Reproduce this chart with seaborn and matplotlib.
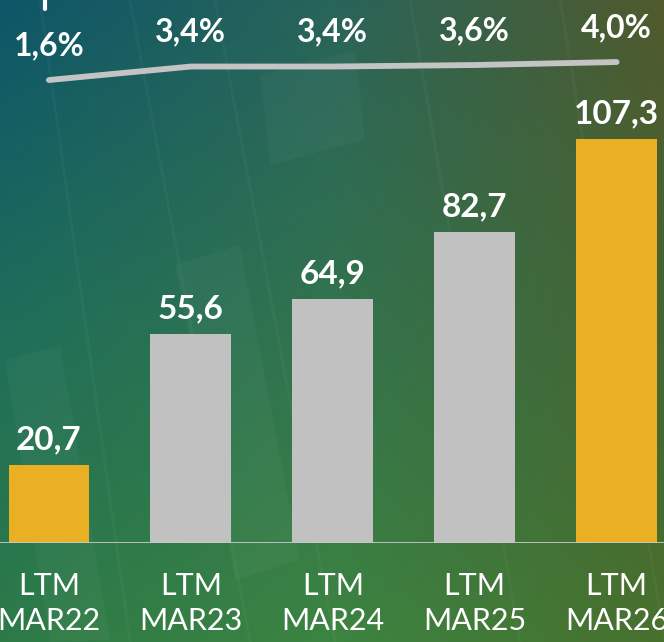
import numpy as np
import pandas as pd
import matplotlib
matplotlib.use("Agg")
import matplotlib.pyplot as plt
import seaborn as sns
from matplotlib.lines import Line2D
from matplotlib.patches import Polygon

# Datos del gráfico
periodos = ["LTM\nMAR22", "LTM\nMAR23", "LTM\nMAR24", "LTM\nMAR25", "LTM\nMAR26"]
valores = [20.7, 55.6, 64.9, 82.7, 107.3]
etiquetas_valor = ["20,7", "55,6", "64,9", "82,7", "107,3"]
porcentajes = [1.6, 3.4, 3.4, 3.6, 4.0]
etiquetas_pct = ["1,6%", "3,4%", "3,4%", "3,6%", "4,0%"]
destacados = [True, False, False, False, True]

DORADO = "#E9B024"
GRIS = "#C1C1C1"

sns.set_theme(style="white")
plt.rcParams['font.family'] = ['Lato', 'DejaVu Sans']

W, H = 664, 642
fig = plt.figure(figsize=(W / 100, H / 100), dpi=100)

# Fondo degradado azul -> verde -> oliva
bg = fig.add_axes([0, 0, 1, 1])
colores_fondo = np.array([
    [[13, 85, 105], [40, 100, 90], [80, 90, 45]],
    [[30, 110, 90], [50, 115, 78], [70, 100, 50]],
    [[45, 122, 72], [60, 132, 65], [72, 112, 45]],
]) / 255.0
bg.imshow(colores_fondo, extent=[-0.25, 1.25, -0.25, 1.25], interpolation='bilinear',
          aspect='auto', zorder=0)
bg.set_xlim(0, 1)
bg.set_ylim(0, 1)
bg.axis('off')


def px(x, y):
    return (x / W, 1 - y / H)


# velas tenues de fondo
for (x0, x1) in [(40, 130), (130, 250), (215, 335), (410, 520), (560, 665)]:
    bg.add_line(Line2D(*zip(px(x0, 0), px(x1, 642)), color='white', alpha=0.035, lw=2))
for pts in [[(175, 265), (240, 245), (300, 560), (235, 580)],
            [(260, 75), (355, 50), (365, 140), (270, 165)],
            [(5, 360), (60, 345), (110, 640), (50, 642)]]:
    bg.add_patch(Polygon([px(*p) for p in pts], closed=True, color='white', alpha=0.03, lw=0))

# Barras
ax = fig.add_axes([0, 99 / H, 1, 543 / H])
ax.patch.set_alpha(0)
df = pd.DataFrame({'periodo': periodos, 'valor': valores})
paleta = [DORADO if d else GRIS for d in destacados]
sns.barplot(data=df, x='periodo', y='valor', hue='periodo', palette=paleta, legend=False,
            width=0.57, saturation=1, linewidth=0, ax=ax, zorder=2)
ax.set_xlim(-0.345, 4.334)
ax.set_ylim(0, 144.2)
ax.set_xlabel('')
ax.set_ylabel('')
ax.set_yticks([])
for s in ax.spines.values():
    s.set_visible(False)
ax.axhline(0, color='#C8C8C8', lw=2, zorder=3)
ax.tick_params(axis='x', length=0, pad=21, labelsize=22, labelcolor='white')
for t in ax.get_xticklabels():
    t.set_linespacing(1.3)

for i, (v, et) in enumerate(zip(valores, etiquetas_valor)):
    ax.annotate(et, (i, v), xytext=(0, 11), textcoords='offset points', ha='center',
                va='baseline', color='white', fontsize=24, fontweight='bold')

# Línea de porcentajes
ax2 = ax.twinx()
ax2.set_ylim(-60.13, 12.27)
ax2.plot(range(len(porcentajes)), porcentajes, color='#C4C4C4', lw=4.2,
         solid_capstyle='round', solid_joinstyle='round', zorder=3)
ax2.set_yticks([])
for s in ax2.spines.values():
    s.set_visible(False)
for i, (p, et) in enumerate(zip(porcentajes, etiquetas_pct)):
    ax2.annotate(et, (i, p), xytext=(0, 18), textcoords='offset points', ha='center',
                 va='baseline', color='white', fontsize=23, fontweight='bold')

# trazo recortado en la parte superior
fig.add_artist(Line2D([45 / W, 45 / W], [1, 1 - 9 / H], color='white', lw=3))

fig.savefig('out.png', dpi=100)
